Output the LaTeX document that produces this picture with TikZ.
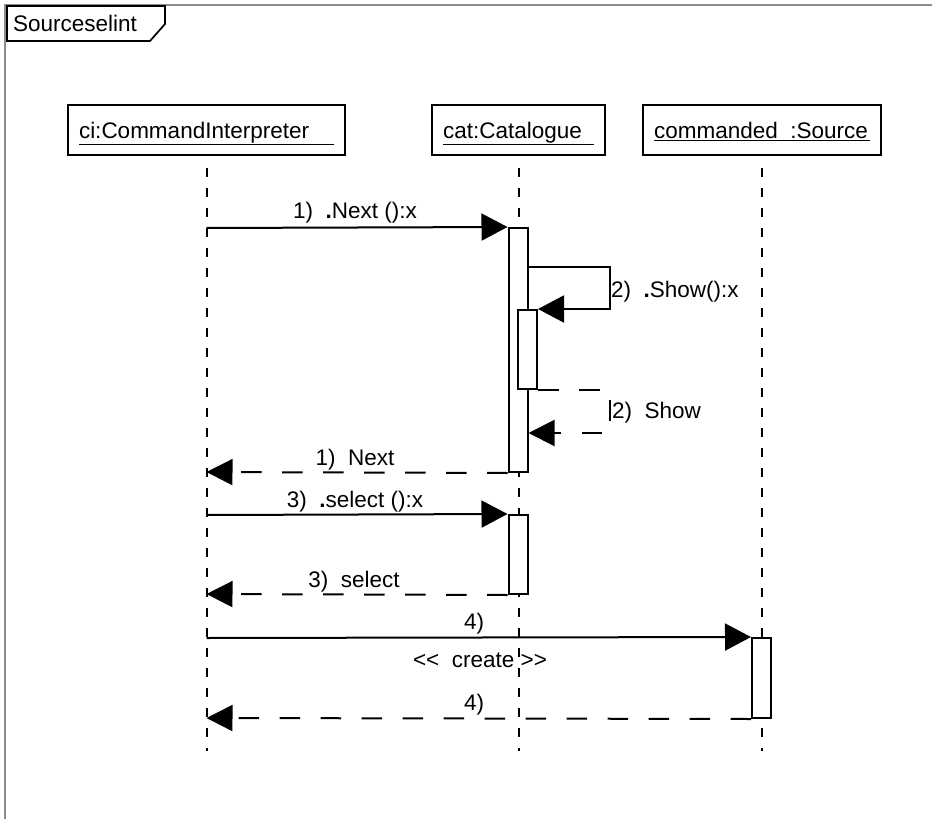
\documentclass[tikz,border=0pt]{standalone}
\usepackage{fontspec}
\setmainfont{Liberation Sans}
\usetikzlibrary{arrows.meta}
\definecolor{framegray}{RGB}{140,140,140}
\begin{document}
\begin{tikzpicture}[x=1pt,y=-1pt,
  every node/.style={font=\fontsize{22.5}{27}\selectfont},
  frameline/.style={draw=framegray, line width=2pt},
  tagbox/.style={draw=black, fill=white, line width=1.7pt, line join=miter},
  hdr/.style={draw, fill=white, line width=2pt, minimum height=50pt, inner sep=0pt,
              text height=16.5pt, text depth=0pt},
  act/.style={draw, fill=white, line width=2pt, minimum width=19pt, inner sep=0pt},
  lifeline/.style={line width=2pt, dash pattern=on 9pt off 11pt},
  call/.style={line width=2pt, -{Triangle[length=26pt,width=27pt]}},
  ret/.style={line width=2pt, dash pattern=on 20.5pt off 20.5pt, -{Triangle[length=26pt,width=26pt]}},
  lbl/.style={anchor=base, inner sep=0pt},
  lblw/.style={anchor=base west, inner sep=0pt}]
\useasboundingbox (0,0) rectangle (932,819);

% diagram frame and its name tag
\draw[frameline] (5,819) -- (5,5) -- (932,5);
\draw[tagbox] (7,6) -- (165,6) -- (165,24) -- (150,41) -- (7,41) -- cycle;
\node[lblw] (tag) at (13,31) {Sourceselint};

% lifeline heads
\node[hdr, minimum width=277pt] (ci) at (206.5,130)
  {\underline{\makebox[255pt][l]{ci:CommandInterpreter}}};
\node[hdr, minimum width=173pt] (cat) at (518.5,130)
  {\underline{\makebox[151pt][l]{cat:Catalogue}}};
\node[hdr, minimum width=238pt] (src) at (762,130)
  {\underline{\makebox[216pt][l]{commanded\ \ :Source}}};

% lifelines
\coordinate (ciEnd) at (206.5,751);
\coordinate (catEnd) at (518.5,751);
\coordinate (srcEnd) at (762,751);
\draw[lifeline] ([yshift=-12pt]ci.south) -- (ciEnd);
\draw[lifeline] ([yshift=-12pt]cat.south) -- (catEnd);
\draw[lifeline] ([yshift=-12pt]src.south) -- (srcEnd);

% activation bars
\node[act, minimum height=244pt] (act1) at (518,350) {};
\node[act, minimum height=79pt] (nested) at (527.5,349.5) {};
\node[act, minimum height=79pt] (act2) at (518,554.5) {};
\node[act, minimum height=80pt] (act3) at (761.5,678) {};

% message ends on the caller lifeline
\coordinate (c1) at (206.5,228);
\coordinate (r1) at (206.5,472);
\coordinate (c3) at (206.5,515);
\coordinate (r3) at (206.5,594);
\coordinate (c4) at (206.5,638);
\coordinate (r4) at (206.5,718);

% 1) Next
\draw[call] (c1) -- (act1.north west);
\node[lbl] (l1) at (355,218) {1)\ \ \textbf{.}Next ():x};

% 2) Show, self call and its return
\draw[call] ([yshift=-40pt]act1.north east) -| ([xshift=72pt]nested.north east) -- (nested.north east);
\node[lblw] (l2) at (611,297) {2)\ \ \textbf{.}Show():x};
\draw[ret] (nested.south east) -- ++(72,0) |- ([yshift=40pt]act1.south east);
\node[lblw] (l2r) at (612,418) {2)\ \ Show};

\draw[ret] (act1.south west) -- (r1);
\node[lbl] (l1r) at (355,465) {1)\ \ Next};

% 3) select
\draw[call] (c3) -- (act2.north west);
\node[lbl] (l3) at (355,507) {3)\ \ \textbf{.}select ():x};
\draw[ret] (act2.south west) -- (r3);
\node[lbl] (l3r) at (354,587) {3)\ \ select};

% 4) create (kerns keep the doubled angle brackets from merging)
\draw[call] (c4) -- (act3.north west);
\node[lbl] (l4) at (474,629) {4)};
\node[lbl] (l4s) at (480,667) {<\kern0pt<\ \ create >\kern0pt>};
\draw[ret] (act3.south west) -- (r4);
\node[lbl] (l4r) at (474,710) {4)};
\end{tikzpicture}
\end{document}
